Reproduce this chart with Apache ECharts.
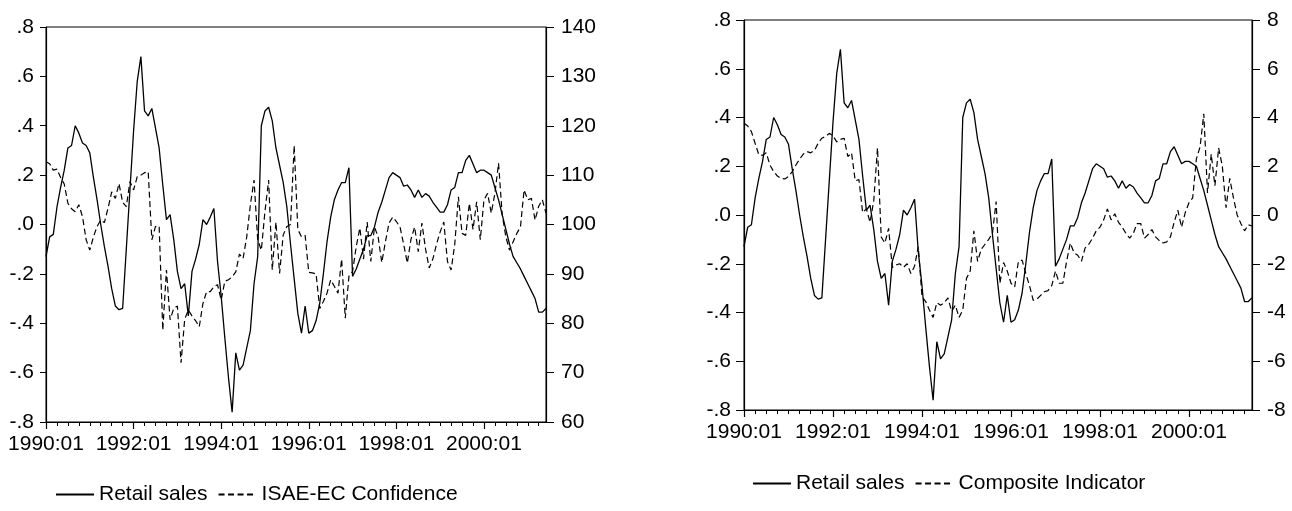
<!DOCTYPE html>
<html>
<head>
<meta charset="utf-8">
<script src="https://cdn.jsdelivr.net/npm/echarts@6/dist/echarts.min.js"></script>
<style>
  html, body { margin: 0; padding: 0; background: #fff; }
  #chart { width: 1292px; height: 511px; }
</style>
</head>
<body>
<div id="chart"></div>
<script>
// Monthly observations, 1990:01 - 2001:06
const START_YEAR = 1990;

// Retail sales (left scale of both panels)
const retailSales = [
  -0.13, -0.05, -0.04, 0.07, 0.15, 0.22, 0.31, 0.32, 0.40, 0.37, 0.33, 0.32,
  0.29, 0.19, 0.10, 0.00, -0.09, -0.17, -0.26, -0.33, -0.345, -0.34, -0.10, 0.14,
  0.38, 0.58, 0.68, 0.46, 0.44, 0.47, 0.39, 0.31, 0.16, 0.02, 0.04, -0.06,
  -0.19, -0.26, -0.24, -0.37, -0.19, -0.14, -0.08, 0.02, 0.00, 0.03, 0.065, -0.15,
  -0.29, -0.46, -0.62, -0.76, -0.52, -0.59, -0.57, -0.50, -0.43, -0.24, -0.13, 0.40,
  0.46, 0.475, 0.42, 0.31, 0.24, 0.17, 0.07, -0.08, -0.22, -0.36, -0.44, -0.33,
  -0.44, -0.43, -0.39, -0.32, -0.20, -0.07, 0.03, 0.10, 0.14, 0.17, 0.17, 0.23,
  -0.21, -0.18, -0.14, -0.10, -0.045, -0.045, -0.01, 0.05, 0.09, 0.14, 0.19, 0.21,
  0.20, 0.19, 0.155, 0.16, 0.14, 0.11, 0.14, 0.11, 0.125, 0.115, 0.09, 0.07,
  0.05, 0.05, 0.08, 0.14, 0.15, 0.21, 0.21, 0.26, 0.28, 0.245, 0.21, 0.22,
  0.22, 0.21, 0.20, 0.15, 0.10, 0.04, -0.02, -0.08, -0.13, -0.155, -0.18, -0.21,
  -0.24, -0.27, -0.30, -0.355, -0.355, -0.34
];

// ISAE-EC consumer confidence (right scale, left panel)
const isaeConfidence = [
  112.7, 112.3, 111.0, 111.2, 109.5, 108.2, 104.3, 103.2, 102.6, 104.0, 101.6, 96.9,
  94.8, 97.5, 99.6, 100.9, 100.4, 103.3, 106.6, 105.3, 108.3, 104.5, 103.6, 108.7,
  107.0, 109.7, 110.0, 110.5, 110.7, 96.9, 99.6, 99.7, 78.6, 90.8, 80.7, 83.0,
  83.5, 72.0, 80.8, 82.7, 81.5, 80.5, 79.3, 84.0, 86.4, 86.4, 87.4, 87.8,
  84.7, 88.5, 88.8, 89.4, 90.4, 94.0, 93.1, 97.5, 104.0, 109.0, 96.9, 94.8,
  102.7, 109.0, 90.8, 100.5, 90.1, 97.9, 99.6, 100.0, 116.0, 99.0, 97.5, 97.8,
  90.3, 90.2, 90.0, 83.0, 84.4, 86.1, 88.8, 87.5, 86.1, 93.0, 81.0, 89.5,
  90.5, 95.5, 99.3, 93.0, 100.5, 92.5, 99.5, 97.5, 92.3, 96.5, 100.3, 101.5,
  100.6, 99.5, 96.0, 92.2, 97.0, 99.5, 94.5, 100.3, 95.0, 91.2, 93.0, 96.0,
  98.5, 100.5, 92.5, 90.8, 96.0, 105.6, 98.2, 97.8, 104.3, 99.0, 104.6, 96.9,
  105.0, 106.3, 102.3, 106.3, 112.4, 102.0, 97.5, 94.8, 96.5, 98.2, 99.5, 107.0,
  105.0, 105.3, 100.9, 103.7, 105.0, 102.3
];

// Composite indicator (right scale, right panel)
const compositeIndicator = [
  3.76, 3.65, 3.42, 2.94, 2.47, 2.45, 2.55, 2.05, 1.78, 1.60, 1.50, 1.48,
  1.58, 1.78, 2.05, 2.29, 2.50, 2.60, 2.55, 2.65, 2.94, 3.15, 3.22, 3.35,
  3.25, 3.00, 3.10, 3.15, 2.40, 2.55, 1.40, 1.45, 0.10, 0.25, -0.30, 0.60,
  2.75, -0.90, -1.15, -0.55, -2.15, -2.05, -2.00, -2.15, -2.00, -2.40, -2.10, -1.30,
  -3.35, -3.55, -3.90, -4.20, -3.60, -3.70, -3.60, -3.40, -3.95, -3.70, -4.20, -3.90,
  -2.60, -2.30, -0.65, -1.90, -1.40, -1.20, -1.00, -0.75, 0.55, -2.80, -1.95, -2.30,
  -2.80, -2.95, -1.90, -1.85, -2.40, -2.90, -3.50, -3.45, -3.30, -3.15, -3.10, -2.90,
  -2.30, -2.80, -2.80, -1.90, -1.15, -1.55, -1.65, -1.90, -1.35, -1.20, -0.95, -0.65,
  -0.50, -0.20, 0.25, -0.20, 0.05, -0.30, -0.50, -0.75, -0.95, -0.75, -0.35, -0.35,
  -0.95, -0.80, -0.60, -0.90, -1.05, -1.15, -1.10, -0.90, -0.30, 0.20, -0.50, 0.10,
  0.50, 0.70, 2.30, 2.80, 4.15, 0.90, 2.50, 1.20, 2.75, 2.00, 0.30, 1.50,
  0.70, 0.00, -0.35, -0.65, -0.40, -0.45
];

// Month labels in YYYY:MM form
const months = retailSales.map((_, i) => {
  const y = START_YEAR + Math.floor(i / 12);
  const m = (i % 12) + 1;
  return y + ':' + (m < 10 ? '0' : '') + m;
});

const FONT = 'Liberation Sans, Arial, Helvetica, sans-serif';
const BLACK = '#000';
const DASH = [6, 3.5];

// ".8", ".0", "-.2" style labels
const fracLabel = v => {
  const s = Math.abs(v) < 1e-9 ? '0.0' : v.toFixed(1);
  return s.replace(/^(-?)0\./, '$1.');
};
const intLabel = v => String(Math.round(v));

// Quarterly short ticks along the bottom edge
function minorX(gridIndex) {
  return {
    type: 'category', gridIndex, data: months, boundaryGap: false, position: 'bottom',
    axisLine: { show: true, onZero: false, lineStyle: { color: BLACK, width: 1.2 } },
    axisTick: { show: true, interval: i => i % 3 === 0 && i % 24 !== 0, length: 4,
                lineStyle: { color: BLACK, width: 1 } },
    axisLabel: { show: false },
    splitLine: { show: false }
  };
}
// Two-year long ticks with date labels
function majorX(gridIndex) {
  return {
    type: 'category', gridIndex, data: months, boundaryGap: false, position: 'bottom',
    axisLine: { show: false, onZero: false },
    axisTick: { show: true, interval: i => i % 24 === 0, length: 7,
                lineStyle: { color: BLACK, width: 1.2 } },
    axisLabel: { show: true, interval: i => i % 24 === 0, margin: 12,
                 fontSize: 21, color: BLACK, fontFamily: FONT },
    splitLine: { show: false }
  };
}
function yAx(gridIndex, position, min, max, interval, formatter, margin, tickLen) {
  return {
    type: 'value', gridIndex, position, min, max, interval,
    axisLine: { show: true, onZero: false, lineStyle: { color: BLACK, width: 1.2 } },
    axisTick: { show: true, inside: false, length: tickLen, lineStyle: { color: BLACK, width: 1 } },
    axisLabel: { formatter, margin, fontSize: 21, color: BLACK, fontFamily: FONT },
    splitLine: { show: false }
  };
}

const solid = { color: BLACK, width: 1.3, type: 'solid' };
const dashed = { color: BLACK, width: 1.2, type: DASH };

const legendBase = {
  padding: 0, itemWidth: 38, itemHeight: 12, itemGap: 10, selectedMode: false,
  itemStyle: { opacity: 0, color: 'transparent', borderWidth: 0 },
  textStyle: { fontSize: 21, color: BLACK, fontFamily: FONT }
};

const chart = echarts.init(document.getElementById('chart'), null, { renderer: 'canvas' });
chart.setOption({
  animation: false,
  backgroundColor: '#fff',
  textStyle: { fontFamily: FONT, color: BLACK },
  grid: [
    { left: 46, top: 27, width: 500, height: 395, show: true, borderColor: BLACK, borderWidth: 1, backgroundColor: 'transparent' },
    { left: 744, top: 20, width: 508, height: 390, show: true, borderColor: BLACK, borderWidth: 1, backgroundColor: 'transparent' }
  ],
  xAxis: [minorX(0), majorX(0), minorX(1), majorX(1)],
  yAxis: [
    yAx(0, 'left', -0.8, 0.8, 0.2, fracLabel, 12, 6),
    yAx(0, 'right', 60, 140, 10, intLabel, 15, 8),
    yAx(1, 'left', -0.8, 0.8, 0.2, fracLabel, 13, 8),
    yAx(1, 'right', -8, 8, 2, intLabel, 15, 8)
  ],
  legend: [
    Object.assign({ data: ['Retail sales', 'ISAE-EC Confidence'], left: 55, top: 484 }, legendBase),
    Object.assign({ data: ['Retail sales', 'Composite Indicator'], left: 752, top: 473 }, legendBase)
  ],
  series: [
    { type: 'line', name: 'Retail sales', xAxisIndex: 0, yAxisIndex: 0, data: retailSales,
      symbol: 'none', lineStyle: solid, itemStyle: { color: BLACK }, z: 3 },
    { type: 'line', name: 'ISAE-EC Confidence', xAxisIndex: 0, yAxisIndex: 1, data: isaeConfidence,
      symbol: 'none', lineStyle: dashed, itemStyle: { color: BLACK }, z: 2 },
    { type: 'line', name: 'Retail sales', xAxisIndex: 2, yAxisIndex: 2, data: retailSales,
      symbol: 'none', lineStyle: solid, itemStyle: { color: BLACK }, z: 3 },
    { type: 'line', name: 'Composite Indicator', xAxisIndex: 2, yAxisIndex: 3, data: compositeIndicator,
      symbol: 'none', lineStyle: dashed, itemStyle: { color: BLACK }, z: 2 }
  ]
});
</script>
</body>
</html>
